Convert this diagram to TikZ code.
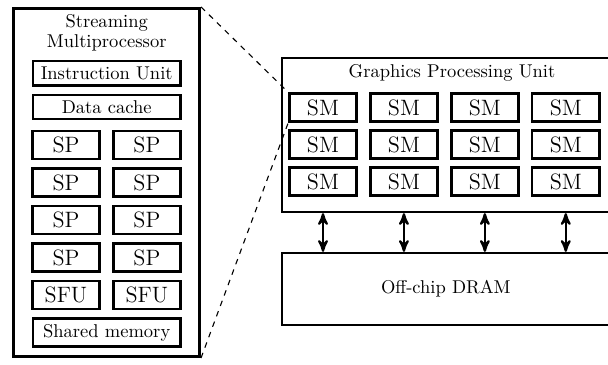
\documentclass[tikz,border=0pt]{standalone}
\usepackage{tikz}
\usetikzlibrary{positioning, arrows}

\begin{document}
\begin{tikzpicture}[x=0.54pt, y=-0.54pt, >=stealth', on grid,
                   node distance=43.7pt,
                   outerbox/.style={draw, line width=1.4pt, inner sep=0pt},
                   cellbox/.style={draw, line width=1.3pt, inner sep=0pt,
                     minimum width=36.2pt, minimum height=15pt, font=\large},
                   widebox/.style={draw, line width=1.3pt, inner sep=0pt,
                     minimum width=79.8pt, minimum height=13.1pt}]
\useasboundingbox (0,0) rectangle (608,365);

%% streaming multiprocessor
\node[outerbox, minimum width=100.4pt, minimum height=188.2pt] (smp) at (106.75,182.5) {};
\node[align=center] (smptitle) at (106.7,33) {Streaming\\[-1pt]Multiprocessor};
\node[widebox]       (iu)   at (106.7,73.3)  {Instruction Unit};
\node[widebox]       (dc)   at (106.7,107)   {Data cache};
\node[cellbox]       (sp1a) at (66,145)      {SP};
\node[cellbox]       (sp1b) [right of=sp1a]  {SP};
\node[cellbox]       (sp2a) [below=20.25pt of sp1a] {SP};
\node[cellbox]       (sp2b) [right of=sp2a]  {SP};
\node[cellbox]       (sp3a) [below=20.25pt of sp2a] {SP};
\node[cellbox]       (sp3b) [right of=sp3a]  {SP};
\node[cellbox]       (sp4a) [below=20.25pt of sp3a] {SP};
\node[cellbox]       (sp4b) [right of=sp4a]  {SP};
\node[cellbox]       (sfua) [below=20.25pt of sp4a] {SFU};
\node[cellbox]       (sfub) [right of=sfua]  {SFU};
\node[widebox, minimum height=15pt] (shm) at (106.7,332.5) {Shared memory};

%% graphics processing unit
\node[outerbox, minimum width=177pt, minimum height=83pt] (gpu) at (445.9,135) {};
\node (gputitle) at (452,73) {Graphics Processing Unit};
\node[cellbox] (sm11) at (323,107.5)     {SM};
\node[cellbox] (sm12) [right of=sm11]    {SM};
\node[cellbox] (sm13) [right of=sm12]    {SM};
\node[cellbox] (sm14) [right of=sm13]    {SM};
\node[cellbox] (sm21) [below=20pt of sm11] {SM};
\node[cellbox] (sm22) [right of=sm21]    {SM};
\node[cellbox] (sm23) [right of=sm22]    {SM};
\node[cellbox] (sm24) [right of=sm23]    {SM};
\node[cellbox] (sm31) [below=20pt of sm21] {SM};
\node[cellbox] (sm32) [right of=sm31]    {SM};
\node[cellbox] (sm33) [right of=sm32]    {SM};
\node[cellbox] (sm34) [right of=sm33]    {SM};

%% memory
\node[outerbox, minimum width=177pt, minimum height=38.7pt] (dram) at (445.9,289) {Off-chip DRAM};

\path[<->, line width=1.2pt]
(sm31 |- gpu.south) edge (sm31 |- dram.north)
(sm32 |- gpu.south) edge (sm32 |- dram.north)
(sm33 |- gpu.south) edge (sm33 |- dram.north)
(sm34 |- gpu.south) edge (sm34 |- dram.north);

\draw[dashed, line width=0.6pt] (smp.north east) -- (sm11.north west);
\draw[dashed, line width=0.6pt] (smp.south east) -- (sm11.south west);
\end{tikzpicture}
\end{document}
